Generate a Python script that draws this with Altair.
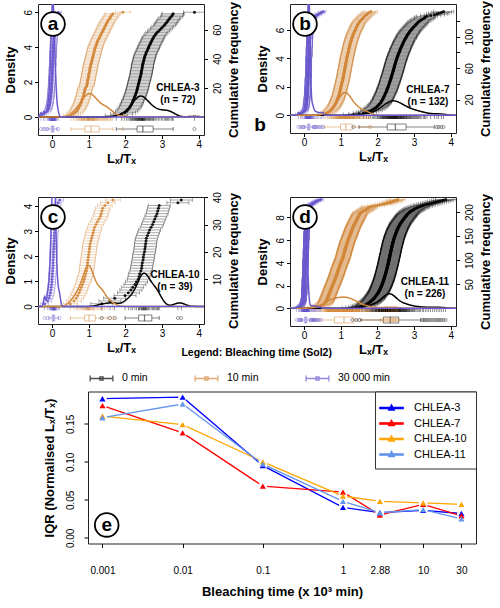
import altair as alt
import pandas as pd

FONT = "Liberation Sans"
GROUPS = ["0 min", "10 min", "30 000 min"]
GROUP_COLORS = ["#000000", "#D2873A", "#6A5ACD"]
CHLEA = ["CHLEA-3", "CHLEA-7", "CHLEA-10", "CHLEA-11"]
CHLEA_COLORS = ["#0000FF", "#FF0000", "#FFA500", "#6495ED"]

# ---- Sorted Lx/Tx values per aliquot: one list per sample and bleaching time ----
a_0 = [1.75, 1.9, 1.98, 2.03, 2.07, 2.1, 2.13, 2.15, 2.17, 2.19,
       2.2, 2.22, 2.24, 2.25, 2.27, 2.28, 2.3, 2.31, 2.32, 2.33,
       2.34, 2.35, 2.36, 2.37, 2.38, 2.39, 2.4, 2.41, 2.42, 2.43,
       2.43, 2.44, 2.45, 2.46, 2.46, 2.47, 2.48, 2.49, 2.5, 2.51,
       2.52, 2.53, 2.55, 2.56, 2.58, 2.6, 2.62, 2.63, 2.65, 2.67,
       2.69, 2.71, 2.73, 2.75, 2.77, 2.8, 2.83, 2.86, 2.9, 2.94,
       2.98, 3.02, 3.06, 3.09, 3.12, 3.15, 3.18, 3.21, 3.25, 3.28,
       3.3, 3.88]
a_10 = [0.52, 0.58, 0.63, 0.67, 0.7, 0.72, 0.74, 0.76, 0.78, 0.8,
        0.81, 0.82, 0.84, 0.85, 0.86, 0.87, 0.88, 0.89, 0.9, 0.91,
        0.94, 0.95, 0.96, 0.97, 0.97, 0.98, 0.99, 1.0, 1.0, 1.01,
        1.02, 1.03, 1.03, 1.04, 1.05, 1.06, 1.07, 1.08, 1.09, 1.1,
        1.11, 1.12, 1.13, 1.14, 1.15, 1.16, 1.17, 1.18, 1.2, 1.21,
        1.23, 1.24, 1.26, 1.28, 1.3, 1.32, 1.34, 1.36, 1.38, 1.4,
        1.42, 1.44, 1.46, 1.48, 1.5, 1.52, 1.55, 1.58, 1.6, 1.63,
        1.66, 1.93]
a_30k = [-0.3, -0.23, -0.19, -0.13, -0.11, -0.09, -0.08, -0.07, -0.06, -0.05,
         -0.05, -0.04, -0.04, -0.03, -0.03, -0.03, -0.02, -0.02, -0.02, -0.01,
         -0.01, -0.01, -0.01, 0.0, 0.0, 0.0, 0.0, 0.0, 0.01, 0.01,
         0.01, 0.01, 0.01, 0.01, 0.02, 0.02, 0.02, 0.02, 0.02, 0.02,
         0.03, 0.03, 0.03, 0.03, 0.03, 0.04, 0.04, 0.04, 0.04, 0.04,
         0.05, 0.05, 0.05, 0.05, 0.06, 0.06, 0.06, 0.06, 0.07, 0.07,
         0.07, 0.08, 0.08, 0.08, 0.09, 0.09, 0.1, 0.1, 0.11, 0.12,
         0.14, 0.17]

b_0 = [1.35, 1.5, 1.62, 1.7, 1.76, 1.82, 1.86, 1.9, 1.93, 1.96,
       1.99, 2.01, 2.03, 2.05, 2.07, 2.09, 2.1, 2.11, 2.13, 2.14,
       2.15, 2.16, 2.17, 2.18, 2.19, 2.2, 2.21, 2.22, 2.23, 2.24,
       2.25, 2.26, 2.26, 2.27, 2.28, 2.29, 2.3, 2.3, 2.31, 2.32,
       2.33, 2.33, 2.34, 2.35, 2.35, 2.36, 2.37, 2.37, 2.38, 2.39,
       2.39, 2.4, 2.41, 2.41, 2.42, 2.43, 2.43, 2.44, 2.44, 2.45,
       2.46, 2.46, 2.47, 2.47, 2.48, 2.49, 2.49, 2.5, 2.51, 2.51,
       2.52, 2.53, 2.53, 2.54, 2.55, 2.56, 2.56, 2.57, 2.58, 2.59,
       2.6, 2.61, 2.62, 2.62, 2.63, 2.64, 2.65, 2.66, 2.67, 2.68,
       2.69, 2.7, 2.71, 2.72, 2.73, 2.74, 2.75, 2.77, 2.78, 2.79,
       2.8, 2.81, 2.83, 2.84, 2.86, 2.87, 2.89, 2.9, 2.92, 2.94,
       2.96, 2.98, 3.0, 3.02, 3.04, 3.06, 3.08, 3.1, 3.12, 3.15,
       3.18, 3.21, 3.25, 3.28, 3.3, 3.35, 3.45, 3.55, 3.62, 3.67,
       3.74, 3.8]
b_10 = [0.55, 0.6, 0.64, 0.67, 0.7, 0.72, 0.74, 0.76, 0.78, 0.8,
        0.81, 0.82, 0.84, 0.85, 0.86, 0.87, 0.88, 0.89, 0.9, 0.91,
        0.92, 0.92, 0.93, 0.94, 0.95, 0.95, 0.96, 0.97, 0.97, 0.98,
        0.98, 0.99, 0.99, 1.0, 1.0, 1.01, 1.01, 1.02, 1.02, 1.03,
        1.03, 1.04, 1.04, 1.05, 1.05, 1.06, 1.06, 1.07, 1.07, 1.08,
        1.08, 1.08, 1.09, 1.09, 1.1, 1.1, 1.1, 1.11, 1.11, 1.12,
        1.12, 1.12, 1.13, 1.13, 1.14, 1.14, 1.14, 1.15, 1.15, 1.16,
        1.16, 1.16, 1.17, 1.17, 1.18, 1.18, 1.19, 1.19, 1.2, 1.2,
        1.21, 1.21, 1.22, 1.22, 1.23, 1.23, 1.24, 1.24, 1.25, 1.25,
        1.26, 1.26, 1.27, 1.28, 1.28, 1.29, 1.3, 1.3, 1.31, 1.32,
        1.33, 1.33, 1.34, 1.35, 1.36, 1.37, 1.38, 1.39, 1.4, 1.41,
        1.42, 1.43, 1.44, 1.45, 1.46, 1.47, 1.48, 1.5, 1.51, 1.53,
        1.55, 1.57, 1.59, 1.61, 1.63, 1.65, 1.67, 1.7, 1.72, 1.75,
        1.78, 1.82]
b_30k = [-0.15, -0.1, -0.06, -0.03, 0.0, 0.02, 0.03, 0.04, 0.05, 0.05,
         0.06, 0.06, 0.06, 0.07, 0.07, 0.07, 0.07, 0.08, 0.08, 0.08,
         0.08, 0.08, 0.09, 0.09, 0.09, 0.09, 0.09, 0.09, 0.1, 0.1,
         0.1, 0.1, 0.1, 0.1, 0.1, 0.1, 0.1, 0.11, 0.11, 0.11,
         0.11, 0.11, 0.11, 0.11, 0.11, 0.11, 0.11, 0.12, 0.12, 0.12,
         0.12, 0.12, 0.12, 0.12, 0.12, 0.12, 0.12, 0.12, 0.12, 0.12,
         0.13, 0.13, 0.13, 0.13, 0.13, 0.13, 0.13, 0.13, 0.13, 0.13,
         0.13, 0.13, 0.13, 0.13, 0.14, 0.14, 0.14, 0.14, 0.14, 0.14,
         0.14, 0.14, 0.14, 0.14, 0.14, 0.14, 0.15, 0.15, 0.15, 0.15,
         0.15, 0.15, 0.15, 0.15, 0.15, 0.15, 0.16, 0.16, 0.16, 0.16,
         0.16, 0.16, 0.16, 0.16, 0.17, 0.17, 0.17, 0.17, 0.17, 0.17,
         0.17, 0.18, 0.18, 0.18, 0.19, 0.19, 0.2, 0.2, 0.21, 0.22,
         0.23, 0.24, 0.25, 0.26, 0.28, 0.3, 0.33, 0.36, 0.4, 0.44,
         0.48, 0.52]

c_0 = [1.36, 1.58, 1.71, 1.99, 2.08, 2.15, 2.2, 2.26, 2.3, 2.35,
       2.37, 2.39, 2.42, 2.44, 2.45, 2.46, 2.48, 2.49, 2.5, 2.52,
       2.53, 2.54, 2.55, 2.56, 2.57, 2.6, 2.63, 2.66, 2.7, 2.74,
       2.77, 2.8, 2.83, 2.86, 2.88, 2.9, 2.92, 3.43, 3.52]
c_10 = [0.5, 0.6, 0.66, 0.7, 0.74, 0.77, 0.8, 0.83, 0.86, 0.88,
        0.9, 0.92, 0.94, 0.95, 0.96, 0.97, 0.98, 0.99, 1.0, 1.01,
        1.02, 1.03, 1.04, 1.06, 1.08, 1.1, 1.12, 1.14, 1.16, 1.2,
        1.24, 1.28, 1.32, 1.34, 1.36, 1.38, 1.44, 1.52, 1.66]
c_30k = [-0.2, -0.12, -0.08, -0.06, -0.04, -0.03, -0.02, -0.01, 0.0, 0.0,
         0.01, 0.01, 0.02, 0.02, 0.03, 0.03, 0.03, 0.04, 0.04, 0.04,
         0.05, 0.05, 0.05, 0.06, 0.06, 0.06, 0.07, 0.07, 0.07, 0.08,
         0.08, 0.09, 0.09, 0.1, 0.11, 0.12, 0.14, 0.17, 0.21]

d_0 = [1.32, 1.42, 1.5, 1.56, 1.6, 1.64, 1.67, 1.7, 1.72, 1.74,
       1.76, 1.78, 1.8, 1.81, 1.83, 1.84, 1.86, 1.87, 1.88, 1.9,
       1.91, 1.92, 1.93, 1.94, 1.95, 1.96, 1.97, 1.98, 1.99, 2.0,
       2.01, 2.02, 2.02, 2.03, 2.04, 2.05, 2.05, 2.06, 2.07, 2.07,
       2.08, 2.08, 2.09, 2.1, 2.1, 2.11, 2.11, 2.12, 2.12, 2.13,
       2.13, 2.14, 2.14, 2.15, 2.15, 2.16, 2.16, 2.17, 2.17, 2.18,
       2.18, 2.18, 2.19, 2.19, 2.2, 2.2, 2.2, 2.21, 2.21, 2.22,
       2.22, 2.22, 2.23, 2.23, 2.23, 2.24, 2.24, 2.24, 2.25, 2.25,
       2.25, 2.26, 2.26, 2.26, 2.27, 2.27, 2.27, 2.28, 2.28, 2.28,
       2.29, 2.29, 2.29, 2.3, 2.3, 2.3, 2.3, 2.31, 2.31, 2.31,
       2.32, 2.32, 2.32, 2.32, 2.33, 2.33, 2.33, 2.34, 2.34, 2.34,
       2.34, 2.35, 2.35, 2.35, 2.36, 2.36, 2.36, 2.36, 2.37, 2.37,
       2.37, 2.38, 2.38, 2.38, 2.38, 2.39, 2.39, 2.39, 2.4, 2.4,
       2.4, 2.41, 2.41, 2.41, 2.42, 2.42, 2.42, 2.43, 2.43, 2.43,
       2.44, 2.44, 2.44, 2.45, 2.45, 2.46, 2.46, 2.46, 2.47, 2.47,
       2.48, 2.48, 2.49, 2.49, 2.5, 2.5, 2.51, 2.51, 2.52, 2.52,
       2.53, 2.53, 2.54, 2.54, 2.55, 2.56, 2.56, 2.57, 2.58, 2.58,
       2.59, 2.6, 2.6, 2.61, 2.62, 2.62, 2.63, 2.64, 2.65, 2.66,
       2.67, 2.68, 2.69, 2.7, 2.71, 2.72, 2.73, 2.74, 2.75, 2.76,
       2.77, 2.78, 2.79, 2.8, 2.81, 2.82, 2.84, 2.85, 2.87, 2.88,
       2.9, 2.92, 2.94, 2.96, 2.98, 3.0, 3.02, 3.05, 3.08, 3.11,
       3.14, 3.18, 3.22, 3.26, 3.3, 3.35, 3.4, 3.45, 3.5, 3.55,
       3.6, 3.65, 3.7, 3.75, 3.8, 3.86]
d_10 = [0.22, 0.3, 0.36, 0.4, 0.44, 0.47, 0.5, 0.52, 0.54, 0.56,
        0.57, 0.58, 0.59, 0.6, 0.61, 0.61, 0.62, 0.62, 0.63, 0.63,
        0.64, 0.65, 0.65, 0.66, 0.66, 0.67, 0.67, 0.68, 0.68, 0.69,
        0.69, 0.7, 0.7, 0.71, 0.71, 0.72, 0.72, 0.73, 0.73, 0.74,
        0.74, 0.75, 0.75, 0.76, 0.76, 0.77, 0.77, 0.78, 0.79, 0.79,
        0.8, 0.8, 0.81, 0.81, 0.82, 0.82, 0.83, 0.83, 0.84, 0.84,
        0.85, 0.85, 0.86, 0.86, 0.87, 0.87, 0.88, 0.88, 0.89, 0.89,
        0.9, 0.9, 0.91, 0.91, 0.91, 0.92, 0.92, 0.93, 0.93, 0.93,
        0.94, 0.94, 0.95, 0.95, 0.96, 0.96, 0.97, 0.97, 0.98, 0.98,
        0.99, 0.99, 1.0, 1.0, 1.01, 1.01, 1.02, 1.02, 1.03, 1.03,
        1.04, 1.04, 1.05, 1.05, 1.06, 1.06, 1.07, 1.07, 1.07, 1.08,
        1.08, 1.08, 1.09, 1.09, 1.09, 1.1, 1.1, 1.1, 1.11, 1.11,
        1.12, 1.12, 1.12, 1.13, 1.13, 1.14, 1.14, 1.14, 1.15, 1.15,
        1.16, 1.16, 1.16, 1.17, 1.17, 1.18, 1.18, 1.18, 1.19, 1.19,
        1.2, 1.2, 1.21, 1.21, 1.22, 1.22, 1.23, 1.23, 1.24, 1.24,
        1.25, 1.25, 1.26, 1.26, 1.27, 1.27, 1.28, 1.28, 1.29, 1.29,
        1.3, 1.3, 1.31, 1.31, 1.32, 1.32, 1.33, 1.33, 1.34, 1.34,
        1.35, 1.36, 1.36, 1.37, 1.38, 1.38, 1.39, 1.4, 1.4, 1.41,
        1.42, 1.42, 1.43, 1.44, 1.44, 1.45, 1.46, 1.46, 1.47, 1.48,
        1.48, 1.49, 1.5, 1.5, 1.51, 1.52, 1.52, 1.54, 1.56, 1.58,
        1.6, 1.62, 1.64, 1.66, 1.68, 1.7, 1.72, 1.74, 1.76, 1.78,
        1.8, 1.85, 1.92, 2.0, 2.08, 2.15, 2.2, 2.25, 2.3, 2.34,
        2.38, 2.42, 2.45, 2.48, 2.52, 2.56]
d_30k = [-0.2, -0.15, -0.12, -0.1, -0.08, -0.07, -0.06, -0.05, -0.04, -0.04,
         -0.03, -0.03, -0.02, -0.02, -0.02, -0.01, -0.01, -0.01, -0.01, 0.0,
         0.0, 0.0, 0.0, 0.0, 0.0, 0.0, 0.0, 0.0, 0.01, 0.01,
         0.01, 0.01, 0.01, 0.01, 0.01, 0.01, 0.01, 0.01, 0.01, 0.01,
         0.01, 0.01, 0.02, 0.02, 0.02, 0.02, 0.02, 0.02, 0.02, 0.02,
         0.02, 0.02, 0.02, 0.02, 0.02, 0.02, 0.02, 0.02, 0.02, 0.02,
         0.02, 0.02, 0.03, 0.03, 0.03, 0.03, 0.03, 0.03, 0.03, 0.03,
         0.03, 0.03, 0.03, 0.03, 0.03, 0.03, 0.03, 0.03, 0.03, 0.03,
         0.03, 0.03, 0.04, 0.04, 0.04, 0.04, 0.04, 0.04, 0.04, 0.04,
         0.04, 0.04, 0.04, 0.04, 0.04, 0.04, 0.04, 0.04, 0.04, 0.04,
         0.04, 0.04, 0.05, 0.05, 0.05, 0.05, 0.05, 0.05, 0.05, 0.05,
         0.05, 0.05, 0.05, 0.05, 0.05, 0.05, 0.05, 0.05, 0.05, 0.05,
         0.05, 0.05, 0.06, 0.06, 0.06, 0.06, 0.06, 0.06, 0.06, 0.06,
         0.06, 0.06, 0.06, 0.06, 0.06, 0.06, 0.06, 0.06, 0.06, 0.06,
         0.06, 0.06, 0.07, 0.07, 0.07, 0.07, 0.07, 0.07, 0.07, 0.07,
         0.07, 0.07, 0.07, 0.07, 0.07, 0.07, 0.07, 0.07, 0.08, 0.08,
         0.08, 0.08, 0.08, 0.08, 0.08, 0.08, 0.08, 0.08, 0.08, 0.08,
         0.08, 0.08, 0.08, 0.08, 0.09, 0.09, 0.09, 0.09, 0.09, 0.09,
         0.09, 0.09, 0.09, 0.09, 0.09, 0.09, 0.09, 0.09, 0.1, 0.1,
         0.1, 0.1, 0.1, 0.1, 0.1, 0.1, 0.11, 0.11, 0.11, 0.11,
         0.11, 0.11, 0.11, 0.12, 0.12, 0.12, 0.12, 0.13, 0.13, 0.13,
         0.14, 0.14, 0.15, 0.16, 0.18, 0.2,
         0.22, 0.24, 0.26, 0.28, 0.3, 0.32, 0.35, 0.38, 0.42, 0.46]

# Half-width of the horizontal uncertainty bars (Lx/Tx units): 0 min, 10 min, 30 000 min
a_err = [0.30, 0.20, 0.09]
b_err = [0.28, 0.18, 0.08]
c_err = [0.30, 0.20, 0.10]
d_err = [0.28, 0.20, 0.07]

# ---- Panel e: IQR of normalised Lx/Tx against bleaching time (x 10^3 min) ----
bleach_time = [0.001, 0.01, 0.1, 1, 2.88, 10, 30]
iqr_chlea3 = [0.183, 0.185, 0.095, 0.040, 0.033, 0.036, 0.032]
iqr_chlea7 = [0.174, 0.138, 0.068, 0.060, 0.030, 0.044, 0.029]
iqr_chlea10 = [0.160, 0.149, 0.100, 0.055, 0.048, 0.046, 0.044]
iqr_chlea11 = [0.158, 0.176, 0.097, 0.048, 0.033, 0.037, 0.025]

XDOM = [-0.38, 4.14]
W = 166
INDEP = dict(color="independent", fill="independent", stroke="independent")


def long_table(lists, errs):
    rows = []
    for g, vals, e in zip(GROUPS, lists, errs):
        for v in vals:
            rows.append({"grp": g, "v": v, "err": e})
    return pd.DataFrame(rows)


def panel(df, letter, sample, H, dens_dom, dens_ticks, cum_dom, cum_ticks,
          cum_shown, name_xy, stray=None):
    n = int((df["grp"] == GROUPS[0]).sum())
    xscale = alt.Scale(domain=XDOM, nice=False, zero=False)
    xaxis = alt.Axis(title="Lₓ/Tₓ", values=[0, 1, 2, 3, 4], format="d",
                     tickSize=3.5, labelPadding=0.5, titlePadding=3.5)

    def X(f):
        return alt.X(f, type="quantitative", scale=xscale, axis=xaxis)

    dscale = alt.Scale(domain=dens_dom, nice=False, zero=False)
    daxis = alt.Axis(title="Density", orient="left", values=dens_ticks, format="d",
                     labelAngle=270, labelAlign="center", labelBaseline="bottom",
                     tickSize=3.5, labelPadding=1.2, titlePadding=6)

    def YD(f):
        return alt.Y(f, type="quantitative", scale=dscale, axis=daxis)

    cscale = alt.Scale(domain=cum_dom, nice=False, zero=False)
    caxis = alt.Axis(title="Cumulative frequency", orient="right", values=cum_ticks,
                     labelExpr=f"indexof({cum_shown}, datum.value) >= 0 ? datum.label : ''",
                     labelAngle=270, labelAlign="center", labelBaseline="top",
                     titleAngle=270, titleBaseline="top",
                     tickSize=3.5, labelPadding=5, titlePadding=5)

    def YC(f):
        return alt.Y(f, type="quantitative", scale=cscale, axis=caxis)

    gcol = alt.Color("grp:N", scale=alt.Scale(domain=GROUPS, range=GROUP_COLORS), legend=None)
    base = alt.Chart(df)

    # cumulative frequency with horizontal uncertainty bars (right axis)
    cum = base.transform_window(
        cum="row_number()", groupby=["grp"], sort=[alt.SortField("v", order="ascending")]
    ).transform_calculate(lo="datum.v - datum.err", hi="datum.v + datum.err")
    bars = cum.mark_rule(strokeWidth=0.7, opacity=0.5, clip=True).encode(
        x=X("lo"), x2="hi", y=YC("cum"), color=gcol)
    cap_lo = cum.mark_tick(orient="vertical", size=4, thickness=0.7, opacity=0.5, clip=True).encode(
        x=X("lo"), y=YC("cum"), color=gcol)
    cap_hi = cum.mark_tick(orient="vertical", size=4, thickness=0.7, opacity=0.5, clip=True).encode(
        x=X("hi"), y=YC("cum"), color=gcol)
    pts = cum.mark_circle(size=9, opacity=0.9, clip=True).encode(
        x=X("v"), y=YC("cum"), color=gcol)
    right = alt.layer(bars, cap_lo, cap_hi, pts)

    # kernel densities, rug and box plots (left axis)
    dens = base.transform_density(
        "v", as_=["v", "density"], groupby=["grp"], extent=XDOM, steps=300
    ).mark_line(strokeWidth=1.5, clip=True).encode(x=X("v"), y=YD("density"), color=gcol)
    rug = base.transform_calculate(zero="0").mark_tick(
        orient="vertical", size=3.5, thickness=0.6, yOffset=2).encode(
        x=X("v"), y=YD("zero"), color=gcol)

    stats = base.transform_joinaggregate(
        q1="q1(v)", q3="q3(v)", med="median(v)", groupby=["grp"]
    ).transform_calculate(
        lof="datum.q1 - 1.5 * (datum.q3 - datum.q1)",
        hif="datum.q3 + 1.5 * (datum.q3 - datum.q1)",
    ).transform_calculate(
        vin="(datum.v >= datum.lof && datum.v <= datum.hif) ? datum.v : null")
    summ = stats.transform_aggregate(
        q1="min(q1)", q3="min(q3)", med="min(med)", wlo="min(vin)", whi="max(vin)",
        groupby=["grp"])
    yb = H - 6
    bop = 0.55
    box = summ.mark_rect(filled=False, strokeWidth=0.9, opacity=bop).encode(
        x=X("q1"), x2="q3", y=alt.value(yb - 3), y2=alt.value(yb + 3), color=gcol)
    wh_lo = summ.mark_rule(strokeWidth=0.9, opacity=bop).encode(
        x=X("wlo"), x2="q1", y=alt.value(yb), color=gcol)
    wh_hi = summ.mark_rule(strokeWidth=0.9, opacity=bop).encode(
        x=X("q3"), x2="whi", y=alt.value(yb), color=gcol)
    st_lo = summ.mark_tick(orient="vertical", size=4, thickness=0.9, opacity=bop).encode(
        x=X("wlo"), y=alt.value(yb), color=gcol)
    st_hi = summ.mark_tick(orient="vertical", size=4, thickness=0.9, opacity=bop).encode(
        x=X("whi"), y=alt.value(yb), color=gcol)
    med = summ.mark_tick(orient="vertical", size=6, thickness=1.2, opacity=bop).encode(
        x=X("med"), y=alt.value(yb), color=gcol)
    outl = stats.transform_filter("datum.vin == null").mark_point(
        shape="circle", filled=False, size=10, strokeWidth=0.7, opacity=bop).encode(
        x=X("v"), y=alt.value(yb), color=gcol)
    left = alt.layer(rug, box, wh_lo, wh_hi, st_lo, st_hi, med, outl, dens)

    one = pd.DataFrame({"k": [0]})
    ring = alt.Chart(one).mark_point(
        shape="circle", size=560, filled=True, fill="white", stroke="black",
        strokeWidth=1.8, opacity=1).encode(x=alt.value(15), y=alt.value(20))
    tag = alt.Chart(one).mark_text(
        text=letter, font=FONT, fontSize=19, fontWeight="bold", baseline="middle",
        align="center").encode(x=alt.value(15), y=alt.value(20))
    name = alt.Chart(one).mark_text(
        text=[sample, f"(n = {n})"], font=FONT, fontSize=10, fontWeight="bold",
        align="center", baseline="alphabetic", lineHeight=12).encode(
        x=alt.value(name_xy[0]), y=alt.value(name_xy[1]))
    layers = [right, left, ring, tag, name]
    if stray:
        layers.append(alt.Chart(one).mark_text(
            text=stray[0], font=FONT, fontSize=19, fontWeight="bold", baseline="middle",
            align="center").encode(x=alt.value(stray[1]), y=alt.value(stray[2])))
    return alt.layer(*layers).resolve_scale(y="independent").properties(width=W, height=H)


pa = panel(long_table([a_0, a_10, a_30k], a_err), "a", "CHLEA-3", 131,
           [-1.03, 6.47], [0, 2, 4, 6], [-12.36, 77.64], [20, 40, 60], [20, 40, 60],
           (140, 87))
pb = panel(long_table([b_0, b_10, b_30k], b_err), "b", "CHLEA-7", 129,
           [-1.25, 7.83], [0, 2, 4, 6], [-22.6, 141.7], [20, 40, 60, 80, 100, 120],
           [20, 60, 100], (138, 89), stray=("b", -30, 121))
pc = panel(long_table([c_0, c_10, c_30k], c_err), "c", "CHLEA-10", 127,
           [-0.70, 4.36], [0, 1, 2, 3, 4], [-6.44, 40.1], [10, 20, 30, 40],
           [10, 20, 30, 40], (137, 81))
pd_ = panel(long_table([d_0, d_10, d_30k], d_err), "d", "CHLEA-11", 129,
            [-1.56, 9.8], [0, 2, 4, 6, 8], [-36.8, 231.3], [50, 100, 150, 200],
            [50, 100, 150, 200], (135, 88))

# ---- panel e ----
e_rows = []
for s, vals in zip(CHLEA, [iqr_chlea3, iqr_chlea7, iqr_chlea10, iqr_chlea11]):
    for t, v in zip(bleach_time, vals):
        e_rows.append({"s": s, "t": t, "iqr": v})
edf = pd.DataFrame(e_rows)

EW, EH = 388, 152
ex = alt.X("t:Q", scale=alt.Scale(type="log", domain=[0.00066, 45.6], nice=False),
           axis=alt.Axis(title="Bleaching time (x 10³ min)", values=bleach_time, format="~g",
                         tickSize=4, labelPadding=18, titlePadding=10,
                         labelFlush=False, labelOverlap=False))
ey = alt.Y("iqr:Q", scale=alt.Scale(domain=[-0.0075, 0.1925], nice=False, zero=False),
           axis=alt.Axis(title="IQR (Normalised Lₓ/Tₓ)", values=[0, 0.05, 0.1, 0.15],
                         format=".2f", labelAngle=270, labelAlign="center",
                         labelBaseline="bottom", tickSize=4, labelPadding=9,
                         titlePadding=9))

LINE_TRI = "M-1.8,-0.1H1.8V0.1H-1.8Z M0,-0.5L0.45,0.32L-0.45,0.32Z"
ERRBAR = ("M-1.75,-0.45V0.45M-1.75,0H1.75M1.75,-0.45V0.45"
          "M-0.25,-0.25H0.25V0.25H-0.25Z")

chlea_legend = alt.Legend(title=None, orient="none", legendX=287, legendY=0,
                          padding=9, strokeColor="#333", fillColor="white",
                          symbolType=LINE_TRI, symbolSize=169, symbolStrokeWidth=1.2,
                          labelOffset=15, rowPadding=2.5, labelFont=FONT,
                          labelFontSize=11, labelColor="black")
ecol = alt.Color("s:N", scale=alt.Scale(domain=CHLEA, range=CHLEA_COLORS), legend=chlea_legend)

e_lines = alt.Chart(edf).mark_line(strokeWidth=1.3).encode(x=ex, y=ey, color=ecol)
e_gaps = alt.Chart(edf).mark_point(shape="circle", filled=True, fill="white",
                                   size=75, opacity=1, strokeWidth=0).encode(x=ex, y=ey)
e_tri = alt.Chart(edf).mark_point(shape="triangle-up", filled=True, size=38, opacity=1).encode(
    x=ex, y=ey, color=ecol)
e_key = alt.Chart(pd.DataFrame({"grp": GROUPS})).transform_filter("false").mark_point(
    filled=False).encode(
    stroke=alt.Stroke("grp:N", scale=alt.Scale(domain=GROUPS, range=GROUP_COLORS),
                      legend=alt.Legend(title=None, orient="none", legendX=6, legendY=-21,
                                        direction="horizontal", symbolType=ERRBAR,
                                        symbolSize=169, symbolStrokeWidth=1.3,
                                        symbolFillColor="transparent",
                                        labelFont=FONT, labelFontSize=10.5, labelOffset=13,
                                        columnPadding=44, padding=0, labelColor="black")))
one = pd.DataFrame({"k": [0]})
e_title = alt.Chart(one).mark_text(
    text="Legend: Bleaching time (Sol2)", font=FONT, fontSize=10.5, fontWeight="bold",
    align="center", baseline="middle").encode(x=alt.value(168.7), y=alt.value(-38.5))
e_ring = alt.Chart(one).mark_point(
    shape="circle", size=560, filled=True, fill="white", stroke="black",
    strokeWidth=1.8, opacity=1).encode(x=alt.value(18.7), y=alt.value(133.4))
e_tag = alt.Chart(one).mark_text(
    text="e", font=FONT, fontSize=19, fontWeight="bold", baseline="middle",
    align="center").encode(x=alt.value(18.7), y=alt.value(133.4))

pe = alt.layer(e_lines, e_gaps, e_tri, e_key, e_title, e_ring, e_tag).properties(
    width=EW, height=EH)

# empty one-pixel cell that indents panel e from the left edge
indent = alt.Chart(one).mark_point(opacity=0).encode(
    x=alt.value(0), y=alt.value(0)).properties(
    width=1, height=1, view=alt.ViewBackground(stroke="transparent"))
row3 = alt.hconcat(indent, pe, spacing=0).resolve_scale(**INDEP).resolve_legend(**INDEP)

row1 = alt.hconcat(pa, pb, spacing=86, bounds="flush").resolve_scale(**INDEP).resolve_legend(**INDEP)
row2 = alt.hconcat(pc, pd_, spacing=86, bounds="flush").resolve_scale(**INDEP).resolve_legend(**INDEP)
top = alt.vconcat(row1, row2, spacing=25).resolve_scale(**INDEP).resolve_legend(**INDEP)
chart = alt.vconcat(top, row3, spacing=-9.5).resolve_scale(**INDEP).resolve_legend(
    **INDEP).properties(
    padding={"left": 3, "top": 0, "right": 0, "bottom": 0}
).configure(font=FONT).configure_view(stroke="#222", strokeWidth=1).configure_axis(
    labelFont=FONT, titleFont=FONT, labelFontSize=10, titleFontSize=13,
    titleFontWeight="bold", labelColor="black", titleColor="black", tickColor="black",
    domain=False, grid=False, labelFlush=False, labelOverlap=False
)

chart.save("out.html", embed_options={"renderer": "svg", "actions": False})
